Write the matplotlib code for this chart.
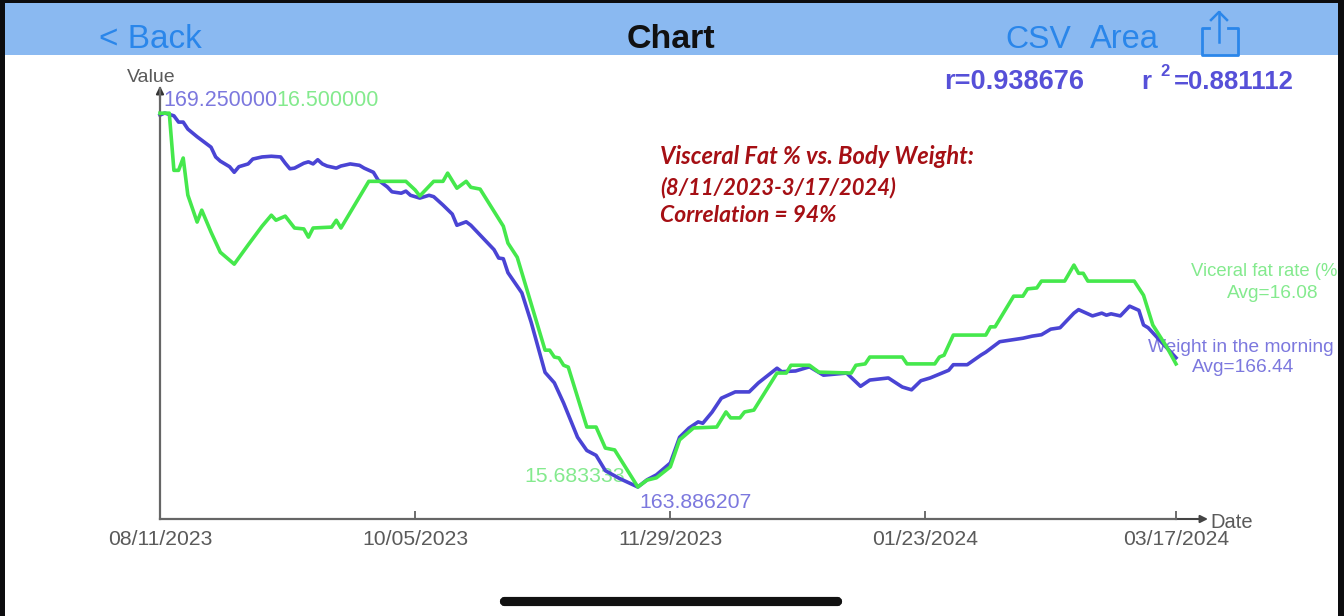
import matplotlib
matplotlib.use("Agg")
import matplotlib.pyplot as plt
from matplotlib.patches import Rectangle, FancyBboxPatch

W, H = 1344, 616

tick_days = [0, 55, 110, 165, 219]
tick_labels = ["08/11/2023", "10/05/2023", "11/29/2023", "01/23/2024", "03/17/2024"]

weight_days = [0, 1, 3, 4, 5, 6, 8, 9, 11, 12, 13, 15, 16, 17, 19, 20, 22, 24, 26, 27, 28, 29, 31, 32, 33, 34, 35, 36, 38, 39,
               41, 43, 44, 46, 47, 49, 50, 52, 53, 54, 56, 58, 59, 61, 63, 64, 66, 67, 70, 72, 73, 74, 75, 78, 80, 83, 85, 87, 90, 92,
               94, 96, 99, 103, 105, 107, 110, 112, 114, 116, 117, 119, 121, 124, 127, 129, 133, 134, 137, 140, 143, 148, 151, 153, 157, 160,
               162, 164, 166, 170, 171, 174, 177, 178, 181, 186, 188, 190, 192, 194, 197, 198, 201, 203, 204, 205, 207, 209, 211, 212, 213, 219]
weight_values = [169.22, 169.25, 169.21, 169.12, 169.12, 169.02, 168.91, 168.86, 168.76, 168.62, 168.56, 168.48, 168.40, 168.48, 168.52, 168.59, 168.62, 168.63, 168.62, 168.53, 168.45, 168.46, 168.53, 168.55, 168.52, 168.58, 168.52, 168.49, 168.46, 168.49,
                 168.52, 168.50, 168.46, 168.40, 168.29, 168.19, 168.12, 168.10, 168.13, 168.07, 168.03, 168.07, 168.05, 167.93, 167.80, 167.64, 167.69, 167.64, 167.43, 167.29, 167.17, 167.16, 166.96, 166.67, 166.25, 165.53, 165.38, 165.09, 164.60, 164.41,
                 164.34, 164.12, 164.01, 163.886, 163.99, 164.06, 164.23, 164.60, 164.73, 164.82, 164.80, 164.96, 165.16, 165.25, 165.25, 165.38, 165.59, 165.54, 165.55, 165.61, 165.49, 165.52, 165.33, 165.42, 165.45, 165.32,
                 165.28, 165.41, 165.45, 165.56, 165.64, 165.64, 165.78, 165.82, 165.97, 166.02, 166.05, 166.07, 166.15, 166.17, 166.38, 166.43, 166.34, 166.38, 166.35, 166.37, 166.34, 166.48, 166.42, 166.21, 166.17, 165.74]

fat_days = [0, 2, 3, 4, 5, 6, 8, 9, 11, 13, 16, 19, 22, 24, 25, 27, 29, 31, 32, 33, 37, 38, 39, 45, 53, 55, 56, 59, 61, 62,
            64, 66, 67, 69, 74, 75, 77, 83, 84, 85, 86, 87, 88, 92, 94, 96, 98, 103, 105, 107, 110, 112, 115, 120, 122, 123, 125, 126, 128, 133,
            135, 136, 140, 142, 149, 150, 152, 153, 160, 161, 167, 168, 169, 171, 178, 179, 180, 184, 186, 187, 189, 190, 195, 197, 198, 199, 200, 210, 212, 214, 217, 219]
fat_values = [16.500, 16.500, 16.375, 16.375, 16.402, 16.321, 16.262, 16.288, 16.240, 16.196, 16.170, 16.212, 16.253, 16.277, 16.266, 16.275, 16.249, 16.247, 16.229, 16.249, 16.251, 16.266, 16.249, 16.351, 16.351, 16.332, 16.319, 16.351, 16.351, 16.369,
              16.336, 16.351, 16.338, 16.334, 16.253, 16.216, 16.185, 15.982, 15.982, 15.967, 15.965, 15.949, 15.945, 15.814, 15.814, 15.768, 15.764, 15.683, 15.698, 15.703, 15.727, 15.786, 15.812, 15.814, 15.847, 15.834, 15.834, 15.847, 15.851, 15.932,
              15.932, 15.949, 15.949, 15.934, 15.932, 15.949, 15.952, 15.967, 15.967, 15.952, 15.952, 15.967, 15.971, 16.015, 16.015, 16.033, 16.033, 16.100, 16.100, 16.116, 16.118, 16.133, 16.133, 16.168, 16.150, 16.150, 16.133, 16.133, 16.102, 16.037, 15.989, 15.952]

BLUE, GREEN = "#4A44D4", "#45E84C"
BLUE_T, GREEN_T = "#7C78DE", "#84EA8E"
GREY = "#5A5A5A"
UI = "#2A86EA"
SANS = ["Liberation Sans", "DejaVu Sans"]
plt.rcParams["font.family"] = SANS

fig = plt.figure(figsize=(W / 100, H / 100), dpi=100, facecolor="white")

# Overlay in pixel coordinates, beneath the data lines
ov = fig.add_axes([0, 0, 1, 1], zorder=0)
ov.set_xlim(0, W); ov.set_ylim(H, 0); ov.axis("off")
ov.add_patch(Rectangle((0, 3), W, 52, color="#8AB9F1", lw=0))
ov.text(99, 40, "< Back", color=UI, fontsize=24, va="center", ha="left")
ov.text(671, 40, "Chart", color="#111111", fontsize=24.5, fontweight="bold", va="center", ha="center")
ov.text(1005, 40, "CSV", color=UI, fontsize=23, va="center", ha="left")
ov.text(1090, 40, "Area", color=UI, fontsize=23.5, va="center", ha="left")
# share icon
ov.plot([1209, 1202, 1202, 1238, 1238, 1228], [28, 28, 55, 55, 28, 28], color=UI, lw=2)
ov.plot([1219, 1219], [12, 42], color=UI, lw=1.8)
ov.plot([1211, 1219, 1227], [20, 12, 20], color=UI, lw=1.8)

ov.text(944, 82, "r=0.938676", color="#5650D8", fontsize=19.5, fontweight="bold", va="center")
ov.text(1141, 82, "r", color="#5650D8", fontsize=18.5, fontweight="bold", va="center")
ov.text(1160, 71, "2", color="#5650D8", fontsize=12, fontweight="bold", va="center")
ov.text(1174, 82, "=0.881112", color="#5650D8", fontsize=18.5, fontweight="bold", va="center")

red_lines = ["Visceral Fat % vs. Body Weight:", "(8/11/2023-3/17/2024)", "Correlation = 94%"]
red_sizes = [17, 15.8, 16.5]
for y, s, fs in zip([157, 188, 216], red_lines, red_sizes):
    ov.text(660, y, s, color="#A50F14", fontsize=fs, fontweight="bold", fontstyle="italic",
            family=["Lato", "DejaVu Sans"], va="center")

ov.text(127, 77, "Value", color=GREY, fontsize=14, va="center")
ov.text(1210, 523, "Date", color=GREY, fontsize=14.5, va="center")
ov.text(163, 101, "169.250000", color=BLUE_T, fontsize=15.5, va="center")
ov.text(276, 101, "16.500000", color=GREEN_T, fontsize=15.5, va="center")
ov.text(524, 477, "15.683333", color=GREEN_T, fontsize=15.3, va="center")
ov.text(639, 502, "163.886207", color=BLUE_T, fontsize=15.3, va="center")
ov.text(1191, 272, "Viceral fat rate (%", color=GREEN_T, fontsize=13.3, va="center")
ov.text(1227, 293, "Avg=16.08", color=GREEN_T, fontsize=13.8, va="center")
ov.text(1148, 347, "Weight in the morning", color=BLUE_T, fontsize=13.8, va="center")
ov.text(1192, 368, "Avg=166.44", color=BLUE_T, fontsize=13.8, va="center")
ov.annotate("", xy=(160, 86), xytext=(160, 100),
            arrowprops=dict(arrowstyle="-|>", color="#333333", lw=1.5, mutation_scale=11, shrinkA=0, shrinkB=0))
ov.annotate("", xy=(1208, 519), xytext=(1175, 519),
            arrowprops=dict(arrowstyle="-|>", color="#444444", lw=1.5, mutation_scale=11, shrinkA=0, shrinkB=0))
ov.add_patch(FancyBboxPatch((502, 599), 338, 5, boxstyle="round,pad=0,rounding_size=2.5", fc="#111111", ec="#111111", lw=3))

# Data axes: spans x 160..1176 and y 88..519 in pixels
ax = fig.add_axes([160 / W, 1 - 519 / H, (1176 - 160) / W, (519 - 88) / H], zorder=1)
ax.patch.set_alpha(0)
ax.set_xlim(0, 219)
ax.set_ylim(163.427, 169.609)
for s in ("top", "right"):
    ax.spines[s].set_visible(False)
for s in ("left", "bottom"):
    ax.spines[s].set_color("#666666"); ax.spines[s].set_linewidth(1.6)
ax.set_yticks([])
ax.set_xticks(tick_days, tick_labels, fontsize=15.2, color=GREY)
ax.tick_params(axis="x", direction="in", length=6, width=1.2, color="#555555", pad=8)
ax.plot(weight_days, weight_values, color=BLUE, lw=2.6, clip_on=False, solid_joinstyle="round")

ax2 = ax.twinx()
ax2.patch.set_alpha(0)
ax2.set_ylim(15.613, 16.555)
ax2.set_yticks([])
for s in ax2.spines.values():
    s.set_visible(False)
ax2.plot(fat_days, fat_values, color=GREEN, lw=2.6, clip_on=False, solid_joinstyle="round")

# Dark screen edges
for x, y, w, h in [(0, 0, W, 3), (0, 0, 5, H), (1338, 0, 6, H)]:
    fig.add_artist(Rectangle((x / W, 1 - (y + h) / H), w / W, h / H, transform=fig.transFigure,
                             color="#0C0C0E", lw=0, zorder=5))

fig.savefig("out.png", dpi=100)
